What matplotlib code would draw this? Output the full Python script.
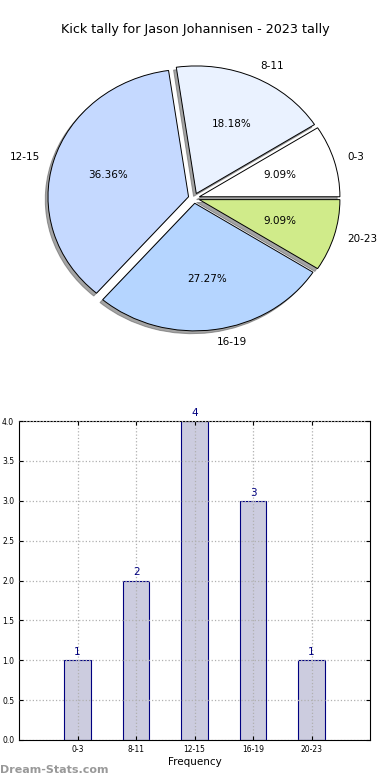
import matplotlib
matplotlib.use("Agg")
import matplotlib.pyplot as plt

# data
categories = ["0-3", "8-11", "12-15", "16-19", "20-23"]
counts = [1, 2, 4, 3, 1]
pie_colors = ["#ffffff", "#eaf2ff", "#c5d9ff", "#b5d5ff", "#d0eb8a"]
explode = [0.04, 0.04, 0.04, 0.04, 0.04]

fig = plt.figure(figsize=(3.9, 7.8), dpi=100)

# PIE (old style, not forced round)
ax1 = fig.add_axes([0.0468, 0.5414, 0.901, 0.409])
wedges, texts, autotexts = ax1.pie(counts, labels=categories, colors=pie_colors,
                                   explode=explode, autopct="%.2f%%",
                                   shadow=dict(ox=-0.014, oy=-0.016, facecolor="0.35",
                                               edgecolor="0.35", alpha=0.55),
                                   startangle=0, counterclock=True,
                                   wedgeprops=dict(edgecolor="black", linewidth=0.7),
                                   textprops=dict(fontsize=7.5))
ax1.set_aspect("auto")
ax1.set_xlim(-1.25, 1.25)
ax1.set_ylim(-1.25, 1.25)
fig.text(0.5, 1 - 30 / 780, "Kick tally for Jason Johannisen - 2023 tally",
         ha="center", va="center", fontsize=9.2)

# BAR
ax2 = fig.add_axes([0.049, 0.0513, 0.9, 0.4089])
x = list(range(len(categories)))
bars = ax2.bar(x, counts, width=0.45, color="#ccccdf", edgecolor="navy", linewidth=0.8, zorder=1)
for xi, c in zip(x, counts):
    ax2.text(xi, c + 0.04, str(c), ha="center", va="bottom", color="navy", fontsize=7.5)
ax2.set_xlim(-1, 5)
ax2.set_ylim(0, 4)
ax2.set_xticks(x)
ax2.set_xticklabels(categories)
ax2.set_yticks([0, 0.5, 1, 1.5, 2, 2.5, 3, 3.5, 4])
ax2.set_yticklabels(["0.0", "0.5", "1.0", "1.5", "2.0", "2.5", "3.0", "3.5", "4.0"])
ax2.tick_params(axis="both", labelsize=5.5, direction="in", top=True, right=True, length=3)
ax2.set_axisbelow(False)
ax2.grid(True, linestyle=":", color="#b0b0b0", linewidth=0.9, zorder=3)
ax2.set_xlabel("Frequency", fontsize=7.5, labelpad=2)

fig.text(0.0, 1 - 770 / 780, "Dream-Stats.com", color="#999999", fontsize=8,
         fontweight="bold", ha="left", va="center")

plt.savefig("out.png", dpi=100)
plt.close()
